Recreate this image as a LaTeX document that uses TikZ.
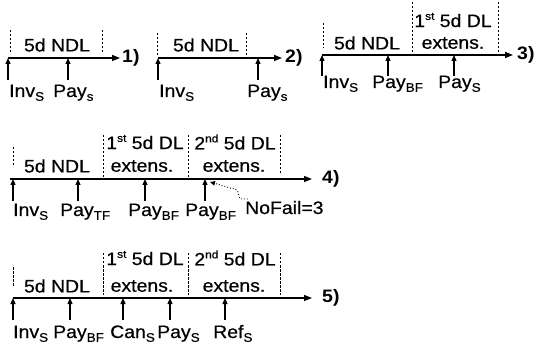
\documentclass[tikz,border=0pt]{standalone}
\usepackage{fontspec}
\setmainfont{Liberation Sans}
\newfontfamily\heavy[FakeBold=0.5]{Liberation Sans}
\usepackage{graphicx}
\usetikzlibrary{arrows.meta}
\newcommand{\sx}[1]{\scalebox{1.08}[1]{#1}}
\newcommand{\mysub}[1]{\raisebox{-0.4ex}{\fontsize{12.5}{12.5}\selectfont #1}}
\newcommand{\mysup}[1]{\raisebox{0.75ex}{\fontsize{11}{11}\selectfont #1}}
\begin{document}
\begin{tikzpicture}[x=1pt,y=-1pt,
  txt/.style={inner sep=0pt, font=\heavy\fontsize{18}{20}\selectfont},
  lab/.style={txt, anchor=base west},
  num/.style={inner sep=0pt, anchor=west, font=\fontsize{18}{20}\selectfont\bfseries},
  axis/.style={line width=1.4pt, -{Triangle[length=8pt,width=6pt]}},
  up/.style={line width=1.2pt, -{Triangle[length=6pt,width=5pt]}},
  dl/.style={line width=0.8pt, dash pattern=on 2.5pt off 1.5pt},
  wavy/.style={line width=0.9pt, dotted, -{Triangle[length=5pt,width=4.5pt]}}]
\useasboundingbox (0,0) rectangle (535,347);

% ---------- 1)
\coordinate (a1) at (8,58);
\node[num] (n1) at (122,58) {\sx{1)}};
\draw[axis] (a1) -- ([xshift=-2pt]n1.west);
\draw[dl] (10,30) -- (10,53);
\draw[dl] (102,30) -- (102,53);
\node[txt] (t1) at (57,45) {\sx{5d NDL}};
\draw[up] (8,80) -- (8,58);
\draw[up] (68,80) -- (68,58);
\node[lab] (l1a) at (9,97) {\sx{Inv\mysub{S}}};
\node[lab] (l1b) at (53,97) {\sx{Pay\mysub{s}}};

% ---------- 2)
\coordinate (a2) at (158,58);
\node[num] (n2) at (285,58) {\sx{2)}};
\draw[axis] (a2) -- ([xshift=-3pt]n2.west);
\draw[dl] (157,33) -- (157,55);
\draw[dl] (246,33) -- (246,55);
\node[txt] (t2) at (206,45) {\sx{5d NDL}};
\draw[up] (158,80) -- (158,58);
\draw[up] (258,80) -- (258,58);
\node[lab] (l2a) at (159,97) {\sx{Inv\mysub{S}}};
\node[lab] (l2b) at (247,97) {\sx{Pay\mysub{s}}};

% ---------- 3)
\coordinate (a3) at (322,55);
\node[num] (n3) at (517,55) {\sx{3)}};
\draw[axis] (a3) -- ([xshift=-4pt]n3.west);
\draw[dl] (323,23) -- (323,48);
\draw[dl] (412,2) -- (412,52);
\draw[dl] (498,2) -- (498,52);
\node[txt] (t3a) at (367,43) {\sx{5d NDL}};
\node[txt] (t3b) at (453,20) {\sx{1\mysup{st} 5d DL}};
\node[txt] (t3c) at (453,43) {\sx{extens.}};
\draw[up] (322,76) -- (322,55);
\draw[up] (388,76) -- (388,55);
\draw[up] (454,76) -- (454,55);
\node[lab] (l3a) at (323,88) {\sx{Inv\mysub{S}}};
\node[lab] (l3b) at (372,88) {\sx{Pay\mysub{BF}}};
\node[lab] (l3c) at (438,88) {\sx{Pay\mysub{S}}};

% ---------- 4)
\coordinate (a4) at (10,179);
\node[num] (n4) at (322,179) {\sx{4)}};
\draw[axis] (a4) -- ([xshift=-10pt]n4.west);
\draw[dl] (13,147) -- (13,167);
\draw[dl] (103,135) -- (103,177);
\draw[dl] (188,135) -- (188,177);
\draw[dl] (280,135) -- (280,175);
\node[txt] (t4a) at (57,166) {\sx{5d NDL}};
\node[txt] (t4b) at (145,142) {\sx{1\mysup{st} 5d DL}};
\node[txt] (t4c) at (142,166) {\sx{extens.}};
\node[txt] (t4d) at (235,142) {\sx{2\mysup{nd} 5d DL}};
\node[txt] (t4e) at (234,166) {\sx{extens.}};
\draw[up] (13,201) -- (13,179);
\draw[up] (78,201) -- (78,179);
\draw[up] (145,201) -- (145,179);
\draw[up] (205,201) -- (205,179);
\node[lab] (l4a) at (13,216) {\sx{Inv\mysub{S}}};
\node[lab] (l4b) at (60,216) {\sx{Pay\mysub{TF}}};
\node[lab] (l4c) at (128,216) {\sx{Pay\mysub{BF}}};
\node[lab] (l4d) at (185,216) {\sx{Pay\mysub{BF}}};
\node[lab] (nf) at (245,214) {\sx{NoFail=3}};
\coordinate (nfs) at (248,199);
\coordinate (tip4) at (210,182);
\draw[wavy] (nfs) -- (242,199) .. controls (237,199) and (240,190) .. (235,189)
  .. controls (229,188) and (224,186) .. (tip4);

% ---------- 5)
\coordinate (a5) at (13,298);
\node[num] (n5) at (322,298) {\sx{5)}};
\draw[axis] (a5) -- ([xshift=-10pt]n5.west);
\draw[dl] (13,267) -- (13,287);
\draw[dl] (103,253) -- (103,295);
\draw[dl] (188,253) -- (188,295);
\draw[dl] (280,253) -- (280,295);
\node[txt] (t5a) at (57,286) {\sx{5d NDL}};
\node[txt] (t5b) at (145,258) {\sx{1\mysup{st} 5d DL}};
\node[txt] (t5c) at (142,286) {\sx{extens.}};
\node[txt] (t5d) at (235,258) {\sx{2\mysup{nd} 5d DL}};
\node[txt] (t5e) at (234,286) {\sx{extens.}};
\draw[up] (13,320) -- (13,298);
\draw[up] (70,320) -- (70,298);
\draw[up] (123,320) -- (123,298);
\draw[up] (170,320) -- (170,298);
\draw[up] (225,320) -- (225,298);
\node[lab] (l5a) at (13,338) {\sx{Inv\mysub{S}}};
\node[lab] (l5b) at (53,338) {\sx{Pay\mysub{BF}}};
\node[lab] (l5c) at (110,338) {\sx{Can\mysub{S}}};
\node[lab] (l5d) at (157,338) {\sx{Pay\mysub{S}}};
\node[lab] (l5e) at (213,338) {\sx{Ref\mysub{S}}};
\end{tikzpicture}
\end{document}
